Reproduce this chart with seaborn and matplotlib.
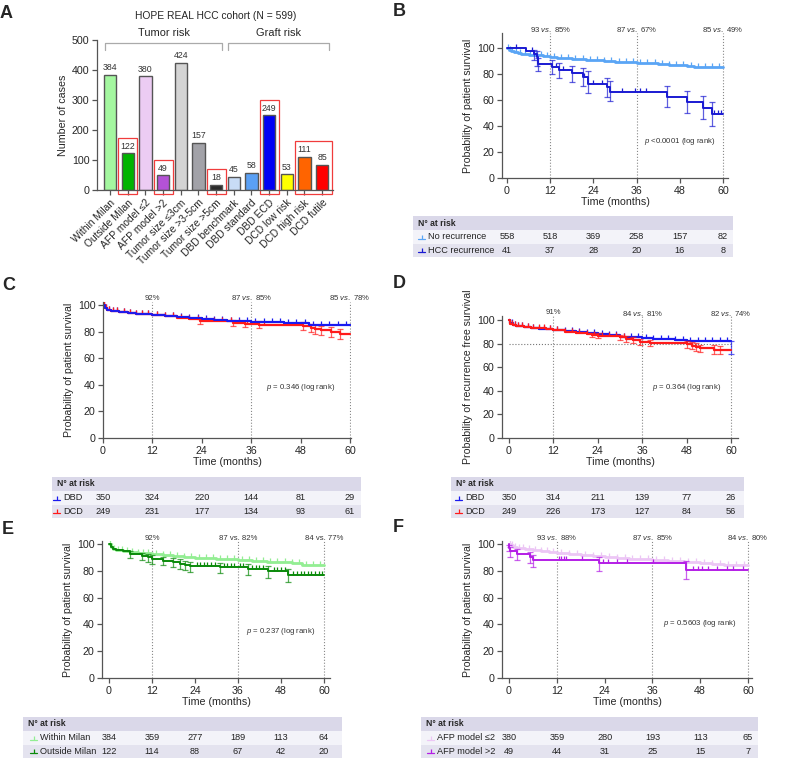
import numpy as np
import matplotlib.pyplot as plt
import seaborn as sns
from matplotlib.patches import Rectangle
from matplotlib import transforms

# ---------- panel A data ----------
categories = ['Within Milan', 'Outside Milan', 'AFP model \u22642', 'AFP model >2',
              'Tumor size \u22643cm', 'Tumor size >3-5cm', 'Tumor size >5cm',
              'DBD benchmark', 'DBD standard', 'DBD ECD', 'DCD low risk',
              'DCD high risk', 'DCD futile']
counts = [384, 122, 380, 49, 424, 157, 18, 45, 58, 249, 53, 111, 85]
bar_colors = ['#a4f7a0', '#00b400', '#ecccf3', '#b452d6', '#d4d4d4', '#a2a2a8',
              '#2b2b2b', '#c8dcf6', '#5aa0f5', '#0000f5', '#ffff00', '#ff6400', '#ff0000']
boxed_groups = [[1], [3], [6], [9], [11, 12]]

# ---------- KM data ----------
months = [0, 12, 24, 36, 48, 60]
dense_cens = [0.3, 0.8, 1.5, 2.5, 3.5, 5, 6.5, 8, 9.5, 11, 13, 15, 17, 19, 21, 23,
              25, 27, 29, 31, 33, 35, 37, 39, 41, 43, 45, 47, 49, 51, 53, 55, 57, 59]

# B
nr_t = [0, 0.5, 1, 2, 3, 4, 6, 8, 10, 12, 14, 16, 18, 20, 22, 24, 27, 30, 33, 36,
        39, 42, 45, 48, 50, 52, 54, 60]
nr_s = [100, 98.5, 97.5, 96.6, 96.1, 95.6, 94.9, 94.3, 93.7, 93.2, 92.6, 92.1, 91.6,
        91.2, 90.8, 90.4, 89.8, 89.4, 89.0, 88.8, 88.2, 87.7, 87.2, 86.6, 85.8, 85.2,
        85.0, 85.0]
hcc_t = [0, 5.2, 7.6, 8.3, 8.7, 12.6, 14.3, 18.1, 21.2, 22.4, 27.7, 28.6, 44.4,
         49.9, 54.5, 56.9, 60]
hcc_s = [100, 97.6, 95.1, 92.7, 87.8, 85.4, 82.9, 80.5, 78.0, 72.2, 69.7, 66.5,
         62.6, 58.5, 54.0, 49.0, 49.0]
hcc_cens = [2.5, 7, 13.5, 15.5, 21.5, 24, 26.5, 32, 35.5, 37, 38.5, 57.5, 58.5, 59.5]
hcc_err_t = [7.6, 8.3, 8.7, 12.6, 14.3, 18.1, 21.2, 22.4, 27.7, 28.6, 44.4, 49.9, 54.5, 56.9]
hcc_err_lo = [90.5, 86, 82.5, 80, 77, 74, 71, 65.5, 62, 59, 54.5, 50, 45, 40]
hcc_err_hi = [98.5, 97.5, 92, 90.5, 88.5, 86.5, 84.5, 82, 77, 74.5, 70.5, 67, 63, 58.5]

# C
dbd_t = [0, 0.5, 1, 2, 4, 6, 8, 10, 12, 15, 18, 21, 24, 27, 30, 33, 36, 40, 44, 48,
         50, 52, 60]
dbd_s = [100, 98, 96.5, 95.8, 95, 94.3, 93.5, 93, 92.4, 91.5, 90.8, 90.2, 89.5,
         88.8, 88.2, 87.7, 87.2, 86.9, 86.6, 86.2, 85.3, 85, 85]
dcd_t = [0, 0.5, 1, 2, 4, 6, 8, 10, 12, 15, 18, 21, 23.5, 31.5, 34.5, 38, 48.5,
         50.5, 51.5, 53, 55.5, 57.5, 60]
dcd_s = [100, 97.5, 96.5, 95.7, 95, 94.2, 93.4, 92.9, 92.3, 91.5, 90.5, 89.8, 87.8,
         86.8, 85.8, 85.3, 84.2, 82.8, 81.8, 81.0, 79.8, 78.2, 78.2]
dcd_err_t = [23.5, 31.5, 34.5, 38, 48.5, 50.5, 51.5, 53, 55.5, 57.5]
dcd_err_lo = [85.8, 84.6, 83.4, 82.8, 81.2, 79.5, 78.3, 77.4, 76.2, 74.6]
dcd_err_hi = [89.8, 89.0, 88.2, 87.8, 87.2, 86.1, 85.3, 84.6, 83.4, 81.8]

# D
dbd2_t = [0, 0.3, 1, 2, 4, 6, 8, 10, 12, 15, 18, 21, 24, 27, 30, 33, 36, 39, 42,
          45, 48, 51, 54, 60]
dbd2_s = [100, 97.5, 96, 95.3, 94.5, 93.6, 92.7, 92, 91.2, 90.3, 89.5, 88.8, 88,
          87, 86, 85.2, 84.5, 84, 83.5, 83, 82.6, 82.2, 82, 82]
dbd2_err_t = [60]
dbd2_err_lo = [71]
dbd2_err_hi = [82]
dcd2_t = [0, 0.3, 1, 2, 4, 6, 8, 10, 12, 15, 18, 21, 22.5, 24, 27, 30, 31.5, 33.5,
          35.5, 38, 48, 49.5, 50.5, 51.5, 55.5, 57, 60]
dcd2_s = [100, 97, 95.8, 95.2, 94.4, 93.6, 93, 92.3, 91.3, 90.2, 89, 88.2, 87.5,
          86.8, 86.2, 85.2, 84.0, 83.0, 81.2, 80.5, 79.5, 78.2, 77.0, 76.0, 75.0,
          74.5, 74.5]
dcd2_err_t = [22.5, 24, 30, 31.5, 33.5, 35.5, 38, 48, 49.5, 50.5, 51.5, 55.5, 57]
dcd2_err_lo = [85.5, 84.6, 82.8, 81.6, 80.5, 78.6, 77.8, 76.6, 75.2, 73.8, 72.8, 71.6, 71.0]
dcd2_err_hi = [89.4, 88.9, 87.6, 86.4, 85.5, 83.8, 83.2, 82.4, 81.2, 80.2, 79.2, 78.4, 78.0]

# E
wm_t = [0, 0.5, 1, 2, 4, 6, 8, 10, 12, 15, 18, 21, 24, 27, 30, 33, 36, 40, 44, 48,
        51, 54, 60]
wm_s = [100, 98, 96.5, 95.5, 94.8, 94.2, 93.6, 93.1, 92.6, 91.8, 91, 90.4, 89.8,
        89.3, 88.8, 88.4, 88.0, 87.4, 86.8, 86.2, 85.5, 84.6, 84.4]
om_t = [0, 0.5, 1, 2, 4, 5.9, 9.1, 11, 12, 15.2, 18, 19.8, 21.2, 22.6, 31, 38.9,
        44.5, 50, 60]
om_s = [100, 98, 96.5, 95.5, 94.5, 92.5, 91, 90, 88.7, 87.5, 86.5, 85.2, 84.2, 83.3,
        82.5, 81.3, 79.5, 77, 77]
om_cens = [24.5, 25.5, 26.5, 27.5, 28.5, 29.5, 32, 33, 34, 35, 36.5, 37.5, 40, 41,
           42, 43, 46, 47, 48, 49, 51.5, 52.5, 53.5, 54.5, 55.5, 56.5, 57.5, 58.5, 59.5]
om_err_t = [5.9, 9.1, 11, 12, 15.2, 18, 19.8, 21.2, 22.6, 31, 38.9, 44.5, 50]
om_err_lo = [89.8, 87.8, 86.6, 85.2, 84, 82.8, 81.4, 80.2, 79.4, 78.4, 77, 74.8, 71.8]
om_err_hi = [94.8, 93.6, 92.8, 91.6, 90.5, 89.6, 88.4, 87.5, 86.8, 86, 85, 83.6, 81.5]

# F
afp1_t = [0, 0.5, 1, 2, 4, 6, 8, 10, 12, 15, 18, 21, 24, 27, 30, 33, 36, 40, 44,
          48, 51, 54, 60]
afp1_s = [100, 99, 98, 97, 96, 95.3, 94.6, 94, 93.4, 92.6, 91.8, 91.1, 90.4, 89.7,
          89.1, 88.5, 87.8, 87.2, 86.6, 86, 85.1, 84.3, 84.1]
afp2_t = [0, 0.1, 0.2, 2, 5.2, 5.9, 22.6, 44.4, 60]
afp2_s = [100, 97, 94.4, 92.4, 90.6, 88.1, 86.1, 80.5, 80.5]
afp2_cens = [12.6, 13.1, 13.7, 14.3, 18.2, 23.7, 24.9, 27, 29.5, 36.2, 46.3, 47.5,
             48.4, 50, 52.1, 54.6, 56.3, 58.8]
afp2_err_t = [0.1, 0.2, 2, 5.2, 5.9, 22.6, 44.4]
afp2_err_lo = [94.5, 90.5, 88, 85.5, 83, 80, 73.5]
afp2_err_hi = [99, 97.5, 96, 94, 92, 90, 87]

# risk tables
risk_B = {'No recurrence': [558, 518, 369, 258, 157, 82],
          'HCC recurrence': [41, 37, 28, 20, 16, 8]}
risk_C = {'DBD': [350, 324, 220, 144, 81, 29], 'DCD': [249, 231, 177, 134, 93, 61]}
risk_D = {'DBD': [350, 314, 211, 139, 77, 26], 'DCD': [249, 226, 173, 127, 84, 56]}
risk_E = {'Within Milan': [384, 359, 277, 189, 113, 64],
          'Outside Milan': [122, 114, 88, 67, 42, 20]}
risk_F = {'AFP model \u22642': [380, 359, 280, 193, 113, 65],
          'AFP model >2': [49, 44, 31, 25, 15, 7]}

# ---------- style ----------
sns.set_style('ticks')
plt.rcParams['font.family'] = ['Liberation Sans', 'DejaVu Sans']
plt.rcParams['mathtext.fontset'] = 'custom'
plt.rcParams['mathtext.rm'] = 'Liberation Sans'
plt.rcParams['mathtext.it'] = 'Liberation Sans:italic'
AXC = '#555555'

W, H = 787, 761
fig = plt.figure(figsize=(W / 100, H / 100), dpi=100)


def rect(x0, y0, x1, y1):
    return [x0 / W, 1 - y1 / H, (x1 - x0) / W, (y1 - y0) / H]


ov = fig.add_axes([0, 0, 1, 1], zorder=-1)
ov.set_xlim(0, W)
ov.set_ylim(H, 0)
ov.axis('off')


def style_axes(ax):
    sns.despine(ax=ax)
    for sp in ['left', 'bottom']:
        ax.spines[sp].set_color(AXC)
        ax.spines[sp].set_linewidth(0.9)
    ax.tick_params(color=AXC, width=0.9, length=3.5, labelsize=7.7, pad=2)
    ax.patch.set_visible(False)


# ---------- panel A ----------
axA = fig.add_axes(rect(97, 40, 333, 190))
sns.barplot(x=categories, y=counts, hue=categories, palette=bar_colors, legend=False,
            dodge=False, width=0.7, saturation=1, edgecolor='#555555', linewidth=1.0, ax=axA)
axA.set_xlim(-0.74, 12.62)
axA.set_ylim(0, 500)
axA.set_yticks(range(0, 501, 100))
style_axes(axA)
axA.set_xticks(range(len(categories)))
axA.set_xticklabels(categories, rotation=45, ha='right', rotation_mode='anchor', fontsize=7.4)
axA.set_xlabel('')
axA.set_ylabel('Number of cases', fontsize=7.7, labelpad=3)
for i, v in enumerate(counts):
    axA.text(i, v + 8, str(v), ha='center', va='bottom', fontsize=6.3, color='#333333')
for g in boxed_groups:
    top = max(counts[i] for i in g) + 52
    axA.add_patch(Rectangle((g[0] - 0.54, -14), g[-1] - g[0] + 1.08, top + 14, fill=False,
                            edgecolor='#f03c3c', lw=0.9, clip_on=False))
for x0, x1, lab in [(-0.28, 6.34, 'Tumor risk'), (6.68, 12.4, 'Graft risk')]:
    axA.plot([x0, x0, x1, x1], [467, 490, 490, 467], color='#aaaaaa', lw=0.9, clip_on=False)
    axA.text((x0 + x1) / 2, 508, lab, ha='center', va='bottom', fontsize=7.9)
axA.text(6, 562, 'HOPE REAL HCC cohort (N = 599)', ha='center', va='bottom', fontsize=7.4)


# ---------- KM helpers ----------
def step_at(t, s, x):
    idx = np.searchsorted(np.asarray(t), np.asarray(x), side='right') - 1
    return np.asarray(s)[idx]


def km_axes(px, xlim, ylim, ylabel):
    ax = fig.add_axes(rect(*px))
    ax.set_xlim(*xlim)
    ax.set_ylim(*ylim)
    ax.set_xticks(months)
    ax.set_yticks(range(0, 101, 20))
    style_axes(ax)
    ax.set_xlabel('Time (months)', fontsize=7.7, labelpad=1)
    ax.set_ylabel(ylabel, fontsize=7.6, labelpad=3)
    ax.vlines([12, 36, 60], 0, ylim[1], colors='#888888', linestyles=':', lw=0.8)
    return ax


def curve(ax, t, s, color, lw, cens=None, err=None):
    sns.lineplot(x=t, y=s, drawstyle='steps-post', color=color, lw=lw, ax=ax,
                 estimator=None, sort=False)
    if cens is not None:
        ax.plot(cens, step_at(t, s, cens), ls='none', marker=2, ms=3.2, mew=0.9, color=color)
    if err is not None:
        et, lo, hi = [np.asarray(a, dtype=float) for a in err]
        ev = step_at(t, s, et)
        ax.errorbar(et, ev, yerr=[ev - lo, hi - ev], fmt='none', ecolor=color,
                    elinewidth=0.9, capsize=2.5, capthick=0.9, alpha=0.7)


def annotate(ax, ypx, labels, pxy, ptext):
    bl = transforms.blended_transform_factory(ax.transData, ov.transData)
    for x, lab in zip([12, 36, 60], labels):
        ax.text(x, ypx, lab, transform=bl, ha='center', va='center', fontsize=5.6, color='#333333')
    ax.text(48, pxy, ptext, ha='center', va='center', fontsize=5.6, color='#333333')


def risk_table(ax, x0, x1, y0, table, colors, label_x):
    rows = [(y0, 14, '#dad8e9'), (y0 + 14, 13.5, '#f3f3f9'), (y0 + 27.5, 13.5, '#e4e3ef')]
    for yy, hh, c in rows:
        ov.add_patch(Rectangle((x0, yy), x1 - x0, hh, color=c, lw=0))
    ov.text(x0 + 5, y0 + 7, 'N\u00b0 at risk', fontweight='bold', fontsize=6.2, va='center')
    bl = transforms.blended_transform_factory(ax.transData, ov.transData)
    for (lab, nums), (yy, hh, _), c in zip(table.items(), rows[1:], colors):
        yc = yy + hh / 2
        ov.plot([label_x - 10, label_x - 3], [yc + 2, yc + 2], color=c, lw=0.9)
        ov.plot([label_x - 6.5], [yc + 2], marker=2, ms=3, mew=0.9, color=c)
        ov.text(label_x, yc, lab, fontsize=6.6, va='center', color='#222222')
        for m, n in zip(months, nums):
            ov.text(m, yc, str(n), transform=bl, ha='center', va='center', fontsize=6.6,
                    color='#222222')


def letter(x, y, s):
    ov.text(x, y, s, fontsize=13, fontweight='bold', va='center', ha='left')


# ---------- panel B ----------
axB = km_axes((502, 33, 728, 178), (-1.4, 61.4), (0, 111.5), 'Probability of patient survival')
curve(axB, nr_t, nr_s, '#5aa5f5', 2.0, cens=dense_cens)
curve(axB, hcc_t, hcc_s, '#1a1ad2', 1.4, cens=hcc_cens, err=(hcc_err_t, hcc_err_lo, hcc_err_hi))
annotate(axB, 30, ['93 $\\mathit{vs.}$ 85%', '87 $\\mathit{vs.}$ 67%', '85 $\\mathit{vs.}$ 49%'],
         28, '$\\mathit{p}$ <0.0001 (log rank)')
risk_table(axB, 413, 733, 216, risk_B, ['#5aa5f5', '#1a1ad2'], 428)

# ---------- panel C ----------
axC = km_axes((103, 302, 351, 438), (0, 60.24), (0, 102.3), 'Probability of patient survival')
curve(axC, dbd_t, dbd_s, '#1a1af0', 1.6, cens=dense_cens)
curve(axC, dcd_t, dcd_s, '#ff1a1a', 1.6, cens=dense_cens[:24],
      err=(dcd_err_t, dcd_err_lo, dcd_err_hi))
axC.plot(dbd_t, dbd_s, drawstyle='steps-post', color='#1a1af0', lw=1.4)
annotate(axC, 298, ['92%', '87 $\\mathit{vs.}$ 85%', '85 $\\mathit{vs.}$ 78%'],
         38, '$\\mathit{p}$ = 0.346 (log rank)')
risk_table(axC, 52, 361, 477, risk_C, ['#1a1af0', '#ff1a1a'], 63)

# ---------- panel D ----------
axD = km_axes((502, 316, 738, 438), (-1.9, 61.9), (0, 103.4),
              'Probability of recurrence free survival')
axD.hlines(80, 0, 60, colors='#777777', linestyles=':', lw=0.8)
curve(axD, dbd2_t, dbd2_s, '#1a1af0', 1.6, cens=dense_cens,
      err=(dbd2_err_t, dbd2_err_lo, dbd2_err_hi))
curve(axD, dcd2_t, dcd2_s, '#ff1a1a', 1.6, cens=dense_cens[:20],
      err=(dcd2_err_t, dcd2_err_lo, dcd2_err_hi))
annotate(axD, 313, ['91%', '84 $\\mathit{vs.}$ 81%', '82 $\\mathit{vs.}$ 74%'],
         43, '$\\mathit{p}$ = 0.364 (log rank)')
risk_table(axD, 451, 744, 477, risk_D, ['#1a1af0', '#ff1a1a'], 465)

# ---------- panel E ----------
axE = km_axes((102, 541, 330, 678), (-1.95, 61.7), (0, 102.2), 'Probability of patient survival')
curve(axE, wm_t, wm_s, '#93ee93', 2.0, cens=dense_cens)
curve(axE, om_t, om_s, '#0a8a0a', 1.4, cens=om_cens, err=(om_err_t, om_err_lo, om_err_hi))
annotate(axE, 538, ['92%', '87 vs. 82%', '84 vs. 77%'], 35, '$\\mathit{p}$ = 0.237 (log rank)')
risk_table(axE, 23, 342, 717, risk_E, ['#93ee93', '#0a8a0a'], 40)

# ---------- panel F ----------
axF = km_axes((502, 541, 752, 678), (-1.76, 61.0), (0, 102.2), 'Probability of patient survival')
curve(axF, afp1_t, afp1_s, '#ecc6f5', 2.0, cens=dense_cens)
curve(axF, afp2_t, afp2_s, '#b41ee6', 1.4, cens=afp2_cens,
      err=(afp2_err_t, afp2_err_lo, afp2_err_hi))
annotate(axF, 538, ['93 $\\mathit{vs.}$ 88%', '87 $\\mathit{vs.}$ 85%', '84 $\\mathit{vs.}$ 80%'],
         41, '$\\mathit{p}$ = 0.5603 (log rank)')
risk_table(axF, 421, 758, 717, risk_F, ['#ecc6f5', '#b41ee6'], 437)

for x, y, s in [(0, 13, 'A'), (393, 12, 'B'), (2, 286, 'C'), (393, 283, 'D'),
                (2, 530, 'E'), (393, 528, 'F')]:
    letter(x, y, s)

fig.savefig('out.png', dpi=100)
